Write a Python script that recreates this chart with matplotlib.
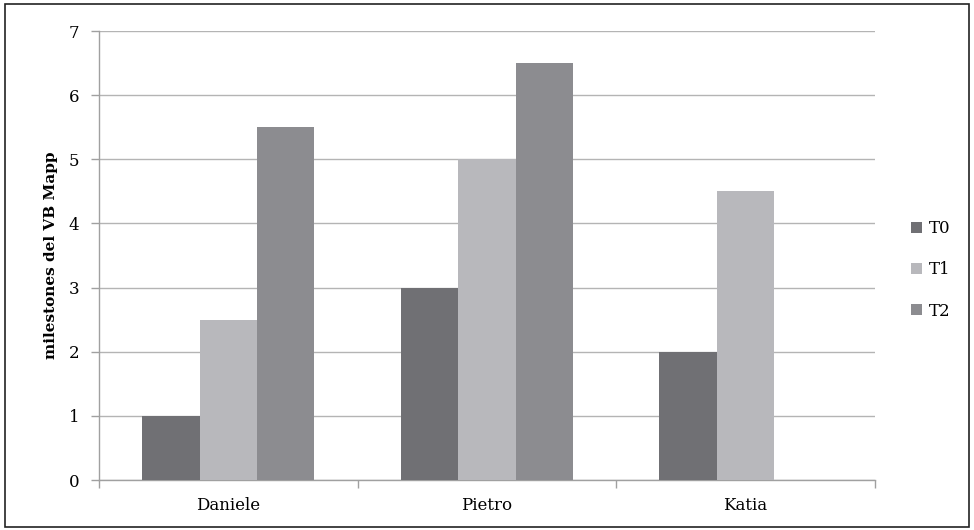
import matplotlib
matplotlib.use("Agg")
import matplotlib.pyplot as plt
import numpy as np
from matplotlib.patches import Rectangle

categories = ["Daniele", "Pietro", "Katia"]
series_names = ["T0", "T1", "T2"]
t0 = [1, 3, 2]
t1 = [2.5, 5, 4.5]
t2 = [5.5, 6.5, 0]
colors = ["#707074", "#b8b8bc", "#8c8c90"]
ylabel = "milestones del VB Mapp"

plt.rcParams['font.family'] = ['DejaVu Serif']

fig = plt.figure(figsize=(9.74, 5.30), dpi=100)
ax = fig.add_axes([0.1016, 0.0943, 0.7964, 0.8472])

x = np.arange(len(categories))
w = 1 / 4.5
for i, (vals, name, c) in enumerate(zip([t0, t1, t2], series_names, colors)):
    ax.bar(x + (i - 1) * w, vals, width=w, color=c, label=name, zorder=3)

ax.set_xlim(-0.5, len(categories) - 0.5)
ax.set_ylim(0, 7)
ax.set_yticks(range(0, 8))
ax.grid(axis='y', color='#b4b4b4', linewidth=1, zorder=0)
ax.set_xticks(x)
ax.set_xticklabels(categories, fontsize=12)
ax.tick_params(axis='x', length=0, pad=12)
ax.set_xticks(np.arange(-0.5, len(categories)), minor=True)
ax.tick_params(axis='x', which='minor', length=6, color='#a0a0a0', width=1)
ax.tick_params(axis='y', length=6, color='#a0a0a0', width=1, labelsize=12, pad=8)
for s in ['top', 'right']:
    ax.spines[s].set_visible(False)
for s in ['left', 'bottom']:
    ax.spines[s].set_color('#a0a0a0')
    ax.spines[s].set_linewidth(1)
ax.set_ylabel(ylabel, fontsize=11, fontweight='bold', labelpad=8)

leg = ax.legend(loc='center left', bbox_to_anchor=(1.028, 0.468), frameon=False,
                fontsize=12, handlelength=0.65, handleheight=0.65,
                handletextpad=0.4, labelspacing=1.45)

fig.patches.append(Rectangle((0.005, 0.005), 0.99, 0.988, transform=fig.transFigure,
                             fill=False, edgecolor='#222222', linewidth=1.2))

fig.savefig("out.png", dpi=100)
